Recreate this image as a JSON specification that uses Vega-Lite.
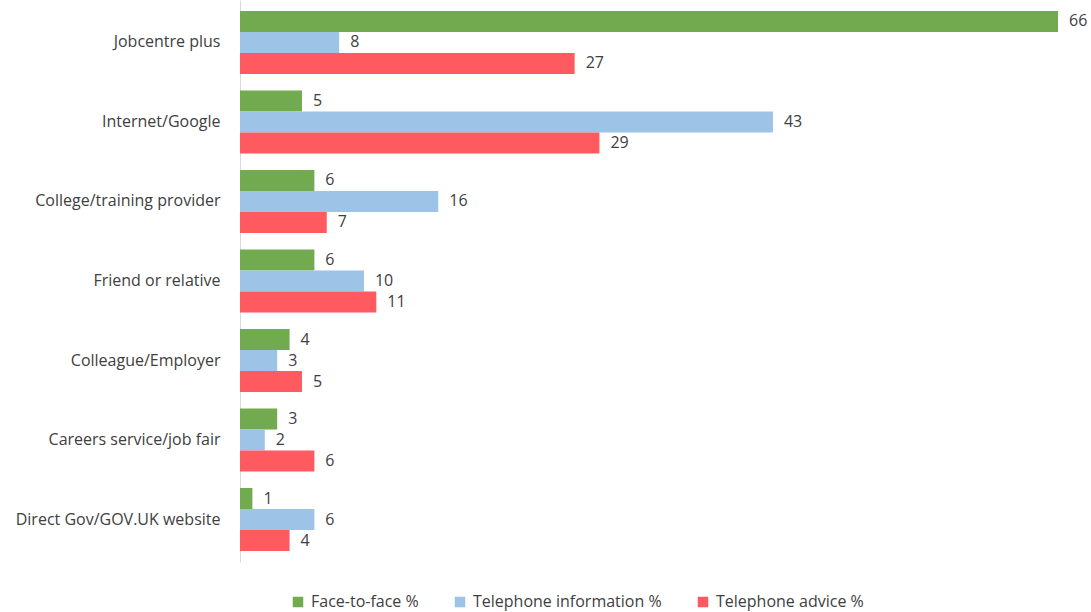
{
  "$schema": "https://vega.github.io/schema/vega-lite/v6.json",
  "autosize": {"type": "none"},
  "padding": {"left": 240, "top": 0, "right": 33, "bottom": 50},
  "width": 818,
  "height": 562,
  "background": "white",
  "config": {
    "view": {"stroke": null},
    "font": "Open Sans",
    "text": {"font": "Open Sans"}
  },
  "data": {
    "values": [
      {"source": "Jobcentre plus", "series": "Face-to-face %", "value": 66},
      {"source": "Jobcentre plus", "series": "Telephone information %", "value": 8},
      {"source": "Jobcentre plus", "series": "Telephone advice %", "value": 27},
      {"source": "Internet/Google", "series": "Face-to-face %", "value": 5},
      {"source": "Internet/Google", "series": "Telephone information %", "value": 43},
      {"source": "Internet/Google", "series": "Telephone advice %", "value": 29},
      {"source": "College/training provider", "series": "Face-to-face %", "value": 6},
      {"source": "College/training provider", "series": "Telephone information %", "value": 16},
      {"source": "College/training provider", "series": "Telephone advice %", "value": 7},
      {"source": "Friend or relative", "series": "Face-to-face %", "value": 6},
      {"source": "Friend or relative", "series": "Telephone information %", "value": 10},
      {"source": "Friend or relative", "series": "Telephone advice %", "value": 11},
      {"source": "Colleague/Employer", "series": "Face-to-face %", "value": 4},
      {"source": "Colleague/Employer", "series": "Telephone information %", "value": 3},
      {"source": "Colleague/Employer", "series": "Telephone advice %", "value": 5},
      {"source": "Careers service/job fair", "series": "Face-to-face %", "value": 3},
      {"source": "Careers service/job fair", "series": "Telephone information %", "value": 2},
      {"source": "Careers service/job fair", "series": "Telephone advice %", "value": 6},
      {"source": "Direct Gov/GOV.UK website", "series": "Face-to-face %", "value": 1},
      {"source": "Direct Gov/GOV.UK website", "series": "Telephone information %", "value": 6},
      {"source": "Direct Gov/GOV.UK website", "series": "Telephone advice %", "value": 4}
    ]
  },
  "encoding": {
    "y": {
      "field": "source", "type": "nominal", "sort": null,
      "scale": {"paddingInner": 0.2075, "paddingOuter": 0.138},
      "axis": {
        "title": null, "ticks": false, "labelPadding": 20, "labelFontSize": 16,
        "labelFont": "Open Sans", "labelColor": "#404040",
        "domainColor": "#d9d9d9", "labelLimit": 240
      }
    },
    "yOffset": {
      "field": "series", "type": "nominal",
      "sort": ["Face-to-face %", "Telephone information %", "Telephone advice %"]
    },
    "x": {
      "field": "value", "type": "quantitative",
      "scale": {"domain": [0, 66], "nice": false},
      "axis": null
    }
  },
  "layer": [
    {
      "mark": {"type": "bar"},
      "encoding": {
        "color": {
          "field": "series", "type": "nominal",
          "scale": {
            "domain": ["Face-to-face %", "Telephone information %", "Telephone advice %"],
            "range": ["#72AA50", "#9DC3E6", "#FF5A5F"]
          },
          "legend": {
            "title": null, "orient": "none", "direction": "horizontal",
            "legendX": 50, "legendY": 594,
            "symbolType": "square", "symbolSize": 110, "symbolStrokeWidth": 0,
            "labelFontSize": 16, "labelFont": "Open Sans", "labelColor": "#404040",
            "columnPadding": 33, "labelOffset": 5, "labelLimit": 300
          }
        }
      }
    },
    {
      "mark": {"type": "text", "align": "left", "baseline": "middle", "dx": 11, "fontSize": 16, "color": "#404040"},
      "encoding": {
        "text": {"field": "value", "type": "quantitative"}
      }
    }
  ]
}
